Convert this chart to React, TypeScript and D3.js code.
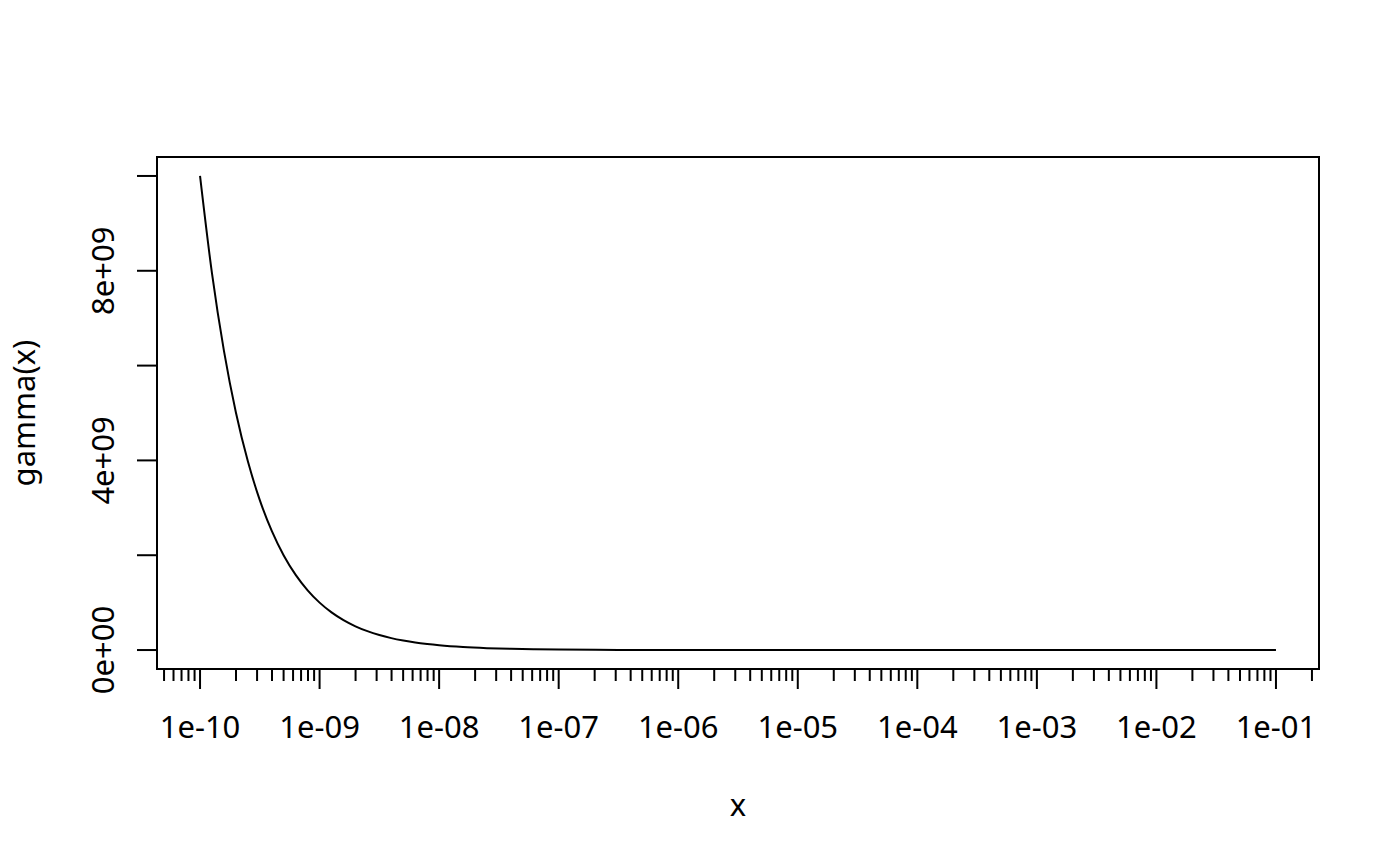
import React from "react";
import * as d3 from "d3";

// log10(x) sample points and gamma(x) values (in units of 1e9)
const logX = [
  -10, -9.9, -9.8, -9.7, -9.6, -9.5, -9.4, -9.3, -9.2, -9.1, -9.0,
  -8.9, -8.8, -8.7, -8.6, -8.5, -8.4, -8.3, -8.2, -8.1, -8.0,
  -7.8, -7.6, -7.4, -7.2, -7.0, -6.5, -6.0, -5.0, -4.0, -3.0, -2.0, -1.0,
];
const gammaE9 = [
  10.0, 7.943, 6.31, 5.012, 3.981, 3.162, 2.512, 1.995, 1.585, 1.259, 1.0,
  0.794, 0.631, 0.501, 0.398, 0.316, 0.251, 0.2, 0.158, 0.126, 0.1,
  0.063, 0.04, 0.025, 0.016, 0.01, 0.003, 0.001, 0.0001, 0, 0, 0, 0,
];
const xMajorExp = [-10, -9, -8, -7, -6, -5, -4, -3, -2, -1];
const xTickLabels = ["1e-10", "1e-09", "1e-08", "1e-07", "1e-06", "1e-05", "1e-04", "1e-03", "1e-02", "1e-01"];
const yTicks = [0, 2e9, 4e9, 6e9, 8e9, 1e10];
const yTickLabels = ["0e+00", "", "4e+09", "", "8e+09", ""];

const L = 157, R = 1319, T = 157, B = 669;
const FONT = "'Noto Sans', 'Open Sans', sans-serif";

export default function App() {
  const x = d3.scaleLog().domain([Math.pow(10, -10.36), Math.pow(10, -0.64)]).range([L, R]);
  const y = d3.scaleLinear().domain([-4e8, 1.04e10]).range([B, T]);

  const pts: [number, number][] = logX.map((e, i) => [x(Math.pow(10, e)), y(gammaE9[i] * 1e9)]);
  const line = d3.line().curve(d3.curveMonotoneX)(pts) || "";

  // minor ticks: 2..9 times each decade within the axis range
  const minor: number[] = [];
  for (let e = -11; e <= -1; e++) {
    for (let m = 2; m <= 9; m++) {
      const v = m * Math.pow(10, e);
      const px = x(v);
      if (px >= L - 0.5 && px <= R + 0.5) minor.push(px);
    }
  }

  return (
    <svg width={1400} height={866} style={{ display: "block", position: "absolute", left: 0, top: 0, background: "#fff" }}>
      <rect x={L} y={T} width={R - L} height={B - T} fill="none" stroke="#000" strokeWidth={2} />
      <path d={line} fill="none" stroke="#000" strokeWidth={2} />
      {/* x axis */}
      <line x1={x(Math.pow(10, -10))} x2={x(Math.pow(10, -1))} y1={B} y2={B} stroke="#000" strokeWidth={2} />
      {minor.map((px, i) => (
        <line key={"m" + i} x1={px} x2={px} y1={B} y2={B + 12} stroke="#000" strokeWidth={2} />
      ))}
      {xMajorExp.map((e, i) => (
        <g key={"x" + i}>
          <line x1={x(Math.pow(10, e))} x2={x(Math.pow(10, e))} y1={B} y2={B + 20} stroke="#000" strokeWidth={2} />
          <text x={x(Math.pow(10, e))} y={738} textAnchor="middle" fontFamily={FONT} fontSize={31} fill="#000">
            {xTickLabels[i]}
          </text>
        </g>
      ))}
      {/* y axis */}
      <line x1={L} x2={L} y1={y(0)} y2={y(1e10)} stroke="#000" strokeWidth={2} />
      {yTicks.map((v, i) => (
        <g key={"y" + i}>
          <line x1={L} x2={L - 20} y1={y(v)} y2={y(v)} stroke="#000" strokeWidth={2} />
          {yTickLabels[i] && (
            <text
              transform={`translate(114,${y(v)}) rotate(-90)`}
              textAnchor="middle"
              fontFamily={FONT}
              fontSize={31}
              fill="#000"
            >
              {yTickLabels[i]}
            </text>
          )}
        </g>
      ))}
      <text x={(L + R) / 2} y={816} textAnchor="middle" fontFamily={FONT} fontSize={31} fill="#000">x</text>
      <text transform={`translate(35,${(T + B) / 2}) rotate(-90)`} textAnchor="middle" fontFamily={FONT} fontSize={31} fill="#000">
        gamma(x)
      </text>
    </svg>
  );
}
